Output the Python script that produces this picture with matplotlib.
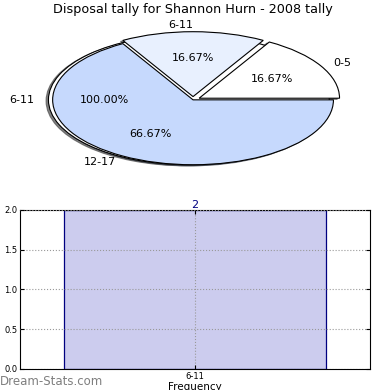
import matplotlib
matplotlib.use("Agg")
import matplotlib.pyplot as plt

# data
title = "Disposal tally for Shannon Hurn - 2008 tally"
single_labels = ["6-11"]
single_counts = [2]
age_labels = ["0-5", "6-11", "12-17"]
age_counts = [1, 1, 4]
pie_colors = ["#ffffff", "#e8f0fe", "#c6d9fd"]
bar_labels = ["6-11"]
bar_values = [2]

fig = plt.figure(figsize=(3.9, 3.9), dpi=100)

# top: pie (two pies drawn on the same axes, like the original)
shadow_style = dict(ox=-0.012, oy=-0.012, alpha=0.7)
ax1 = fig.add_axes([0.045, 0.536, 0.9, 0.416])
ax1.pie(single_counts, labels=single_labels, colors=pie_colors[:1],
        explode=[0.03], autopct="%.2f%%", shadow=shadow_style,
        wedgeprops=dict(linewidth=0.8, edgecolor="black"),
        textprops=dict(fontsize=8))
ax1.pie(age_counts, labels=age_labels, colors=pie_colors,
        explode=[0.05, 0.05, 0], autopct="%.2f%%", shadow=shadow_style,
        wedgeprops=dict(linewidth=0.8, edgecolor="black"),
        textprops=dict(fontsize=8))
ax1.set_aspect("auto")
ax1.set_xlim(-1.25, 1.25)
ax1.set_ylim(-1.25, 1.25)
ax1.set_title(title, fontsize=9.2, pad=4)

# bottom: bar chart
ax2 = fig.add_axes([0.0513, 0.054, 0.897, 0.408])
bars = ax2.bar(range(len(bar_values)), bar_values, width=0.75,
               color="#ccccee", edgecolor="#000080", linewidth=0.9)
for i, v in enumerate(bar_values):
    ax2.text(i, v, str(v), ha="center", va="bottom", color="#000080", fontsize=8)
ax2.set_xlim(-0.5, 0.5)
ax2.set_ylim(0, 2)
ax2.set_yticks([0, 0.5, 1.0, 1.5, 2.0])
ax2.set_yticklabels(["0.0", "0.5", "1.0", "1.5", "2.0"])
ax2.set_xticks(range(len(bar_labels)))
ax2.set_xticklabels(bar_labels)
ax2.tick_params(labelsize=6, direction="in", length=3, right=True, top=True, pad=2)
ax2.grid(True, linestyle=":", color="#999999", linewidth=0.8)
ax2.set_axisbelow(False)
ax2.set_xlabel("Frequency", fontsize=7.5, labelpad=1)

fig.text(0.0, 0.012, "Dream-Stats.com", color="#7f7f7f", fontsize=8.5)

fig.savefig("out.png", dpi=100)
